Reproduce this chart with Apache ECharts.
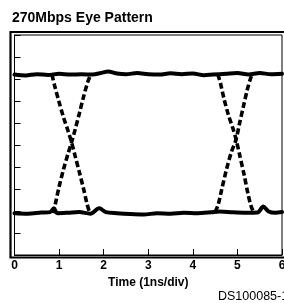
<!DOCTYPE html>
<html>
<head>
<meta charset="utf-8">
<script src="https://cdn.jsdelivr.net/npm/echarts@6/dist/echarts.min.js"></script>
<style>
  html, body { margin: 0; padding: 0; background: #fff; }
  #chart { width: 284px; height: 303px; }
</style>
</head>
<body>
<div id="chart"></div>
<script>
// x axis: time in ns (1ns/div), y axis: 10 divisions, no labels
const xTickLabels = ['0', '1', '2', '3', '4', '5', '6'];

// high level trace
const topTrace = [
  [0, 8.2], [0.25, 8.16], [0.5, 8.22], [0.75, 8.18], [1.0, 8.24], [1.25, 8.2],
  [1.5, 8.22], [1.75, 8.2], [1.95, 8.28], [2.1, 8.34], [2.3, 8.25], [2.5, 8.22],
  [2.75, 8.27], [3.0, 8.22], [3.25, 8.2], [3.5, 8.26], [3.75, 8.22], [4.0, 8.25],
  [4.25, 8.17], [4.45, 8.2], [4.75, 8.24], [5.0, 8.27], [5.25, 8.21], [5.5, 8.27],
  [5.75, 8.22], [6.0, 8.24]
];

// low level trace
const bottomTrace = [
  [0, 1.9], [0.3, 1.88], [0.6, 1.93], [0.8, 1.95], [0.88, 2.12], [0.96, 1.9],
  [1.2, 1.92], [1.45, 1.95], [1.7, 1.88], [1.9, 2.12], [2.05, 1.95], [2.3, 1.9],
  [2.6, 1.86], [2.9, 1.84], [3.2, 1.9], [3.5, 1.88], [3.8, 1.92], [4.1, 1.9],
  [4.4, 1.94], [4.6, 1.98], [4.9, 1.94], [5.2, 1.92], [5.45, 1.93], [5.58, 2.2],
  [5.7, 1.98], [5.85, 1.92], [6.0, 1.95]
];

// first crossing
const fall1 = [
  [0.84, 8.2], [0.9, 7.7], [1.0, 6.95], [1.1, 6.25], [1.2, 5.65], [1.28, 5.12],
  [1.36, 4.5], [1.45, 3.8], [1.55, 3.0], [1.63, 2.3], [1.69, 1.9]
];
const rise1 = [
  [0.87, 1.9], [0.93, 2.45], [1.0, 3.1], [1.1, 3.9], [1.2, 4.6], [1.28, 5.12],
  [1.36, 5.7], [1.45, 6.4], [1.55, 7.2], [1.64, 7.85], [1.71, 8.2]
];

// second crossing
const fall2 = [
  [4.56, 8.22], [4.62, 7.8], [4.7, 7.1], [4.8, 6.35], [4.9, 5.75], [4.97, 5.25],
  [5.05, 4.55], [5.15, 3.65], [5.24, 2.75], [5.31, 2.2], [5.37, 1.92]
];
const rise2 = [
  [4.5, 1.95], [4.57, 2.3], [4.65, 3.0], [4.75, 3.85], [4.86, 4.65], [4.97, 5.25],
  [5.05, 6.0], [5.14, 6.8], [5.22, 7.5], [5.29, 8.0], [5.34, 8.24]
];

const chart = echarts.init(document.getElementById('chart'), null, { renderer: 'canvas' });

function trace(data, dashed) {
  return {
    type: 'line',
    data: data,
    symbol: 'none',
    smooth: 0.3,
    silent: true,
    lineStyle: {
      color: '#000',
      width: dashed ? 3.6 : 4,
      type: dashed ? [6, 3] : 'solid',
      cap: dashed ? 'butt' : 'round'
    }
  };
}

const option = {
  animation: false,
  backgroundColor: '#fff',
  title: {
    text: '270Mbps Eye Pattern',
    left: 12,
    top: 11,
    padding: 0,
    textStyle: {
      fontFamily: 'Liberation Sans, Arial, sans-serif',
      fontSize: 14,
      fontWeight: 'bold',
      color: '#000'
    }
  },
  grid: {
    left: 14.5,
    right: 2,
    top: 35,
    bottom: 48,
    outerBoundsMode: 'none',
    containLabel: false,
    show: true,
    borderColor: '#000',
    borderWidth: 1,
    backgroundColor: '#fff'
  },
  xAxis: {
    type: 'value',
    min: 0,
    max: 6,
    interval: 1,
    name: 'Time (1ns/div)',
    nameLocation: 'middle',
    nameGap: 20,
    nameTextStyle: {
      fontFamily: 'Liberation Sans, Arial, sans-serif',
      fontSize: 12,
      fontWeight: 'bold',
      color: '#000'
    },
    axisLine: { show: true, lineStyle: { color: '#000', width: 1 } },
    axisTick: { show: true, inside: true, length: 6, lineStyle: { color: '#000', width: 1 } },
    axisLabel: {
      margin: 5,
      fontFamily: 'Liberation Sans, Arial, sans-serif',
      fontSize: 12,
      fontWeight: 'bold',
      color: '#000',
      formatter: function (v) { return xTickLabels[Math.round(v)]; }
    },
    splitLine: { show: false }
  },
  yAxis: {
    type: 'value',
    min: 0,
    max: 10,
    interval: 1,
    axisLine: { show: true, lineStyle: { color: '#000', width: 1 } },
    axisTick: { show: true, inside: true, length: 6, lineStyle: { color: '#000', width: 1 } },
    axisLabel: { show: false },
    splitLine: { show: false }
  },
  graphic: [
    {
      type: 'rect',
      shape: { x: 10.5, y: 32, width: 280, height: 225.5 },
      style: { fill: 'none', stroke: '#000', lineWidth: 2.2 },
      silent: true
    },
    {
      type: 'text',
      left: 218,
      top: 290,
      style: {
        text: 'DS100085-1',
        font: '12.5px "Liberation Sans", Arial, sans-serif',
        fill: '#000'
      },
      silent: true
    }
  ],
  series: [
    trace(topTrace, false),
    trace(bottomTrace, false),
    trace(fall1, true),
    trace(rise1, true),
    trace(fall2, true),
    trace(rise2, true)
  ]
};

chart.setOption(option);
</script>
</body>
</html>
